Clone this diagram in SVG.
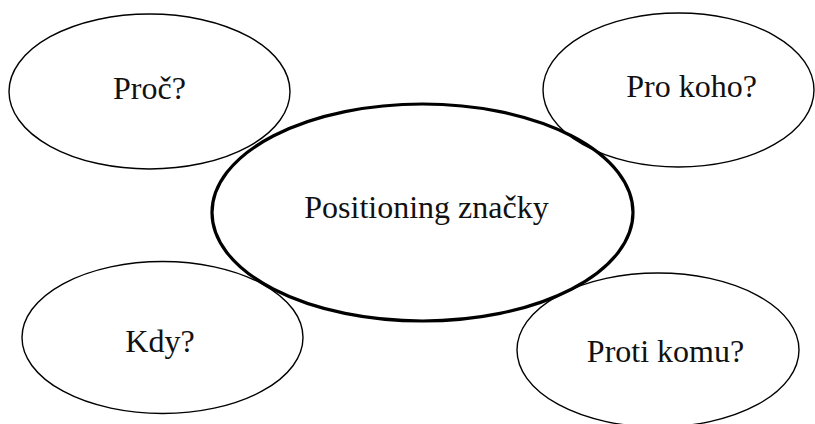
<svg xmlns="http://www.w3.org/2000/svg" width="815" height="424" viewBox="0 0 815 424">
<style>
.bg{fill:#ffffff}
.n{fill:none;stroke:#000;stroke-width:1.4}
.c{fill:none;stroke:#000;stroke-width:3.2}
.t{font-family:"Liberation Serif","Times New Roman",serif;font-size:32px;fill:#111;text-anchor:middle}
</style>
<rect class="bg" x="0" y="0" width="815" height="424"/>
<g id="connectors"></g>
<g id="center">
<ellipse class="c" cx="422.5" cy="212.5" rx="210.5" ry="108.5"/>
<text class="t" x="426.5" y="218">Positioning značky</text>
</g>
<g id="proc">
<ellipse class="n" cx="149.5" cy="91.5" rx="140.5" ry="77.5"/>
<text class="t" x="149.5" y="99">Proč?</text>
</g>
<g id="prokoho">
<ellipse class="n" cx="678.5" cy="90" rx="135.5" ry="77"/>
<text class="t" x="691.5" y="97">Pro koho?</text>
</g>
<g id="kdy">
<ellipse class="n" cx="162.5" cy="337.5" rx="140.5" ry="76"/>
<text class="t" x="160" y="352">Kdy?</text>
</g>
<g id="protikomu">
<ellipse class="n" cx="658" cy="350" rx="141" ry="77"/>
<text class="t" x="665.5" y="362">Proti komu?</text>
</g>
</svg>
